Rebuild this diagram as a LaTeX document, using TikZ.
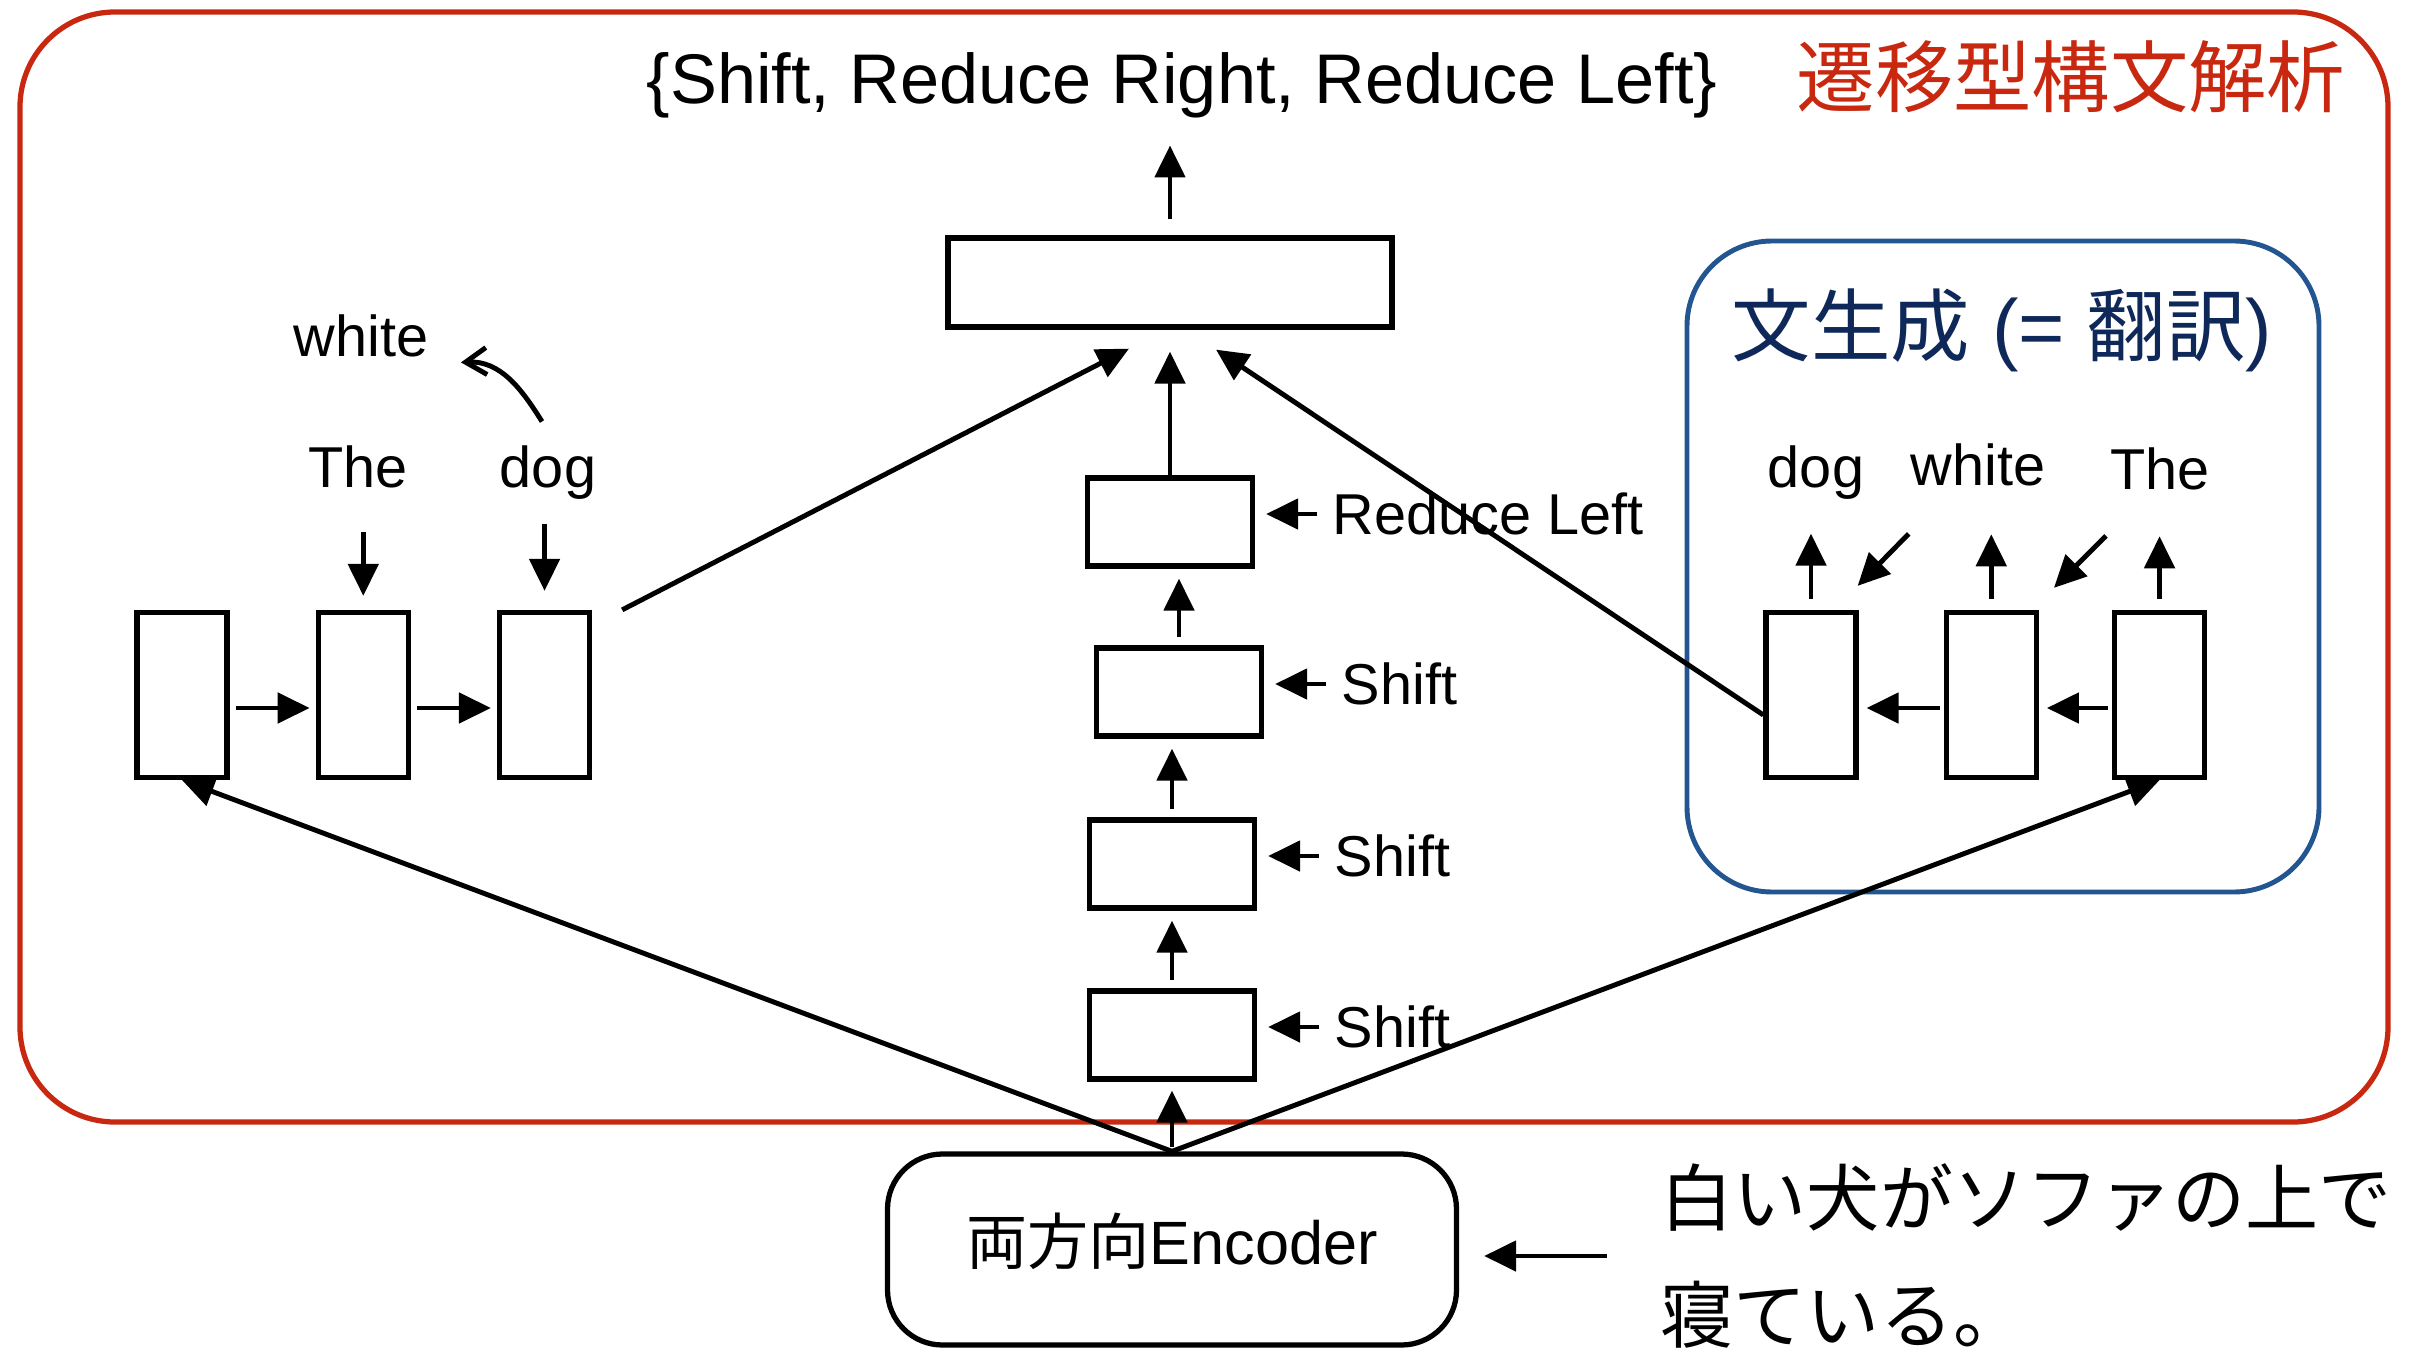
\documentclass[tikz,border=0pt]{standalone}
\usepackage{fontspec}
\setmainfont{Liberation Sans}
\newfontfamily\jp{Noto Sans CJK JP}
\usepackage{tikz}
\usetikzlibrary{arrows.meta,positioning,calc}
\definecolor{parsered}{RGB}{200,40,15}
\definecolor{genblue}{RGB}{35,85,145}
\definecolor{gennavy}{RGB}{15,40,90}

\begin{document}
\begin{tikzpicture}[font=\fontsize{16.4}{20}\selectfont,
  >={Triangle[length=3.2mm,width=3mm]},
  frame/.style={draw, line width=1.5pt, inner sep=0pt},
  cell/.style={draw, line width=1.5pt, minimum width=0.9cm, minimum height=1.65cm, inner sep=0pt},
  stack/.style={draw, line width=1.5pt, minimum width=1.65cm, minimum height=0.88cm, inner sep=0pt},
  arr/.style={->, line width=1.4pt},
  up/.style={arr, shorten <=0.08cm, shorten >=0.1cm},
  word/.style={anchor=base, inner sep=0pt},
  act/.style={anchor=west, inner sep=0pt}]
\useasboundingbox (0,0) rectangle (24.27,-13.54);

% ---- frames ----
\node[frame, draw=parsered, rounded corners=0.95cm,
  minimum width=23.68cm, minimum height=11.10cm] (parse) at (12.04,-5.67) {};
\node[frame, draw=genblue, line width=1.4pt, rounded corners=0.85cm,
  minimum width=6.32cm, minimum height=6.51cm] (gen) at (20.03,-5.665) {};
\node[text=parsered, font=\jp\fontsize{22.3}{26}\selectfont] (ptitle) at (20.71,-0.77) {遷移型構文解析};
\node[text=gennavy, font=\fontsize{22.6}{26}\selectfont] (gtitle) at (20.02,-3.30)
  {{\jp 文生成} (= {\jp 翻訳})};

% ---- action output ----
\node[font=\fontsize{20}{24}\selectfont, inner sep=0pt] (acts) at (11.82,-0.85)
  {\{Shift, Reduce Right, Reduce Left\}};
\node[draw, line width=1.5pt, minimum width=4.44cm, minimum height=0.89cm] (out) at (11.70,-2.825) {};
\draw[arr, shorten <=0.16cm, shorten >=0.27cm] (out.north) -- (out.north |- acts.south);

% ---- stack (middle) ----
\node[stack] (rl)  at (11.70,-5.22)  {};
\node[stack] (sh1) at (11.79,-6.92)  {};
\node[stack] (sh2) at (11.72,-8.64)  {};
\node[stack] (sh3) at (11.72,-10.35) {};
\node[act] (lrl)  at ([shift={(0.77,0.08)}]rl.east)  {Reduce Left};
\node[act] (lsh1) at ([shift={(0.77,0.08)}]sh1.east) {Shift};
\node[act] (lsh2) at ([shift={(0.77,0.08)}]sh2.east) {Shift};
\node[act] (lsh3) at ([shift={(0.77,0.08)}]sh3.east) {Shift};
\foreach \l/\b in {lrl/rl, lsh1/sh1, lsh2/sh2, lsh3/sh3}
  \draw[arr, shorten <=0.15cm, shorten >=0.11cm] (\l.west) -- (\l.west -| \b.east);
\draw[arr, shorten >=0.22cm] (rl.north) -- (rl.north |- out.south);
\draw[up] (sh1.north) -- (sh1.north |- rl.south);
\draw[up] (sh2.north) -- (sh2.north |- sh1.south);
\draw[up] (sh3.north) -- (sh3.north |- sh2.south);

% ---- buffer (left) ----
\node[cell] (lc1) at (1.82,-6.95) {};
\node[cell, right=0.86cm of lc1] (lc2) {};
\node[cell, right=0.86cm of lc2] (lc3) {};
\node[word] (lthe)   at (3.58,-4.87) {The};
\node[word] (ldog)   at (5.48,-4.87) {dog};
\node[word] (lwhite) at (3.61,-3.57) {white};
\draw[arr, shorten <=0.06cm, shorten >=0.06cm] ([yshift=-0.13cm]lc1.east) -- ([yshift=-0.13cm]lc2.west);
\draw[arr, shorten <=0.06cm, shorten >=0.06cm] ([yshift=-0.13cm]lc2.east) -- ([yshift=-0.13cm]lc3.west);
\draw[arr, shorten <=0.44cm, shorten >=0.14cm] (lc2.north |- lthe.south) -- (lc2.north);
\draw[arr, shorten <=0.24cm, shorten >=0.19cm] (lc3.north |- ldog.south) -- (lc3.north);
\draw[line width=1.4pt, -{Straight Barb[length=2.1mm,width=2.7mm]}]
  ([shift={(-0.06,0.23)}]ldog.north) to[out=122, in=3] ([shift={(0.32,-0.26)}]lwhite.east);
\draw[arr] ([xshift=0.30cm]lc3.north east) -- ([shift={(-0.41,-0.19)}]out.south);

% ---- generation (right) ----
\node[cell] (rc1) at (18.11,-6.95) {};
\node[cell, right=0.85cm of rc1] (rc2) {};
\node[cell, right=0.73cm of rc2] (rc3) {};
\node[word] (rdog)   at (18.16,-4.87) {dog};
\node[word] (rwhite) at (19.78,-4.85) {white};
\node[word] (rthe)   at (21.60,-4.89) {The};
\draw[arr, shorten <=0.04cm, shorten >=0.08cm] ([yshift=-0.13cm]rc2.west) -- ([yshift=-0.13cm]rc1.east);
\draw[arr, shorten <=0.04cm, shorten >=0.08cm] ([yshift=-0.13cm]rc3.west) -- ([yshift=-0.13cm]rc2.east);
\draw[arr, shorten <=0.11cm, shorten >=0.34cm] (rc1.north) -- (rc1.north |- rdog.south);
\draw[arr, shorten <=0.11cm, shorten >=0.48cm] (rc2.north) -- (rc2.north |- rwhite.south);
\draw[arr, shorten <=0.11cm, shorten >=0.46cm] (rc3.north) -- (rc3.north |- rthe.south);
\draw[arr] ([shift={(0.50,0.76)}]rc1.north east) -- ([shift={(-0.01,0.24)}]rc1.north east);
\draw[arr] ([shift={(0.67,0.74)}]rc2.north east) -- ([shift={(0.15,0.22)}]rc2.north east);
\draw[arr] ([yshift=-0.2cm]rc1.west) -- ([shift={(0.46,-0.20)}]out.south);

% ---- encoder ----
\node[draw, line width=1.5pt, rounded corners=0.55cm, minimum width=5.69cm, minimum height=1.91cm,
  text depth=6.2pt, font=\fontsize{17.4}{20}\selectfont] (enc) at (11.72,-12.495) {{\jp 両方向}Encoder};
\node[anchor=west, align=left, inner sep=0pt, font=\jp\fontsize{20.8}{33.5}\selectfont] (sent)
  at (16.60,-12.56) {白い犬がソファの上で\\寝ている。};
\draw[arr, shorten <=0.04cm, shorten >=0.09cm] (enc.north) -- (enc.north |- sh3.south);
\draw[arr] (enc.north) -- (lc1.south);
\draw[arr] (enc.north) -- (rc3.south);
\draw[arr, shorten <=0.53cm, shorten >=0.25cm] (sent.west) -- (sent.west -| enc.east);
\end{tikzpicture}
\end{document}
